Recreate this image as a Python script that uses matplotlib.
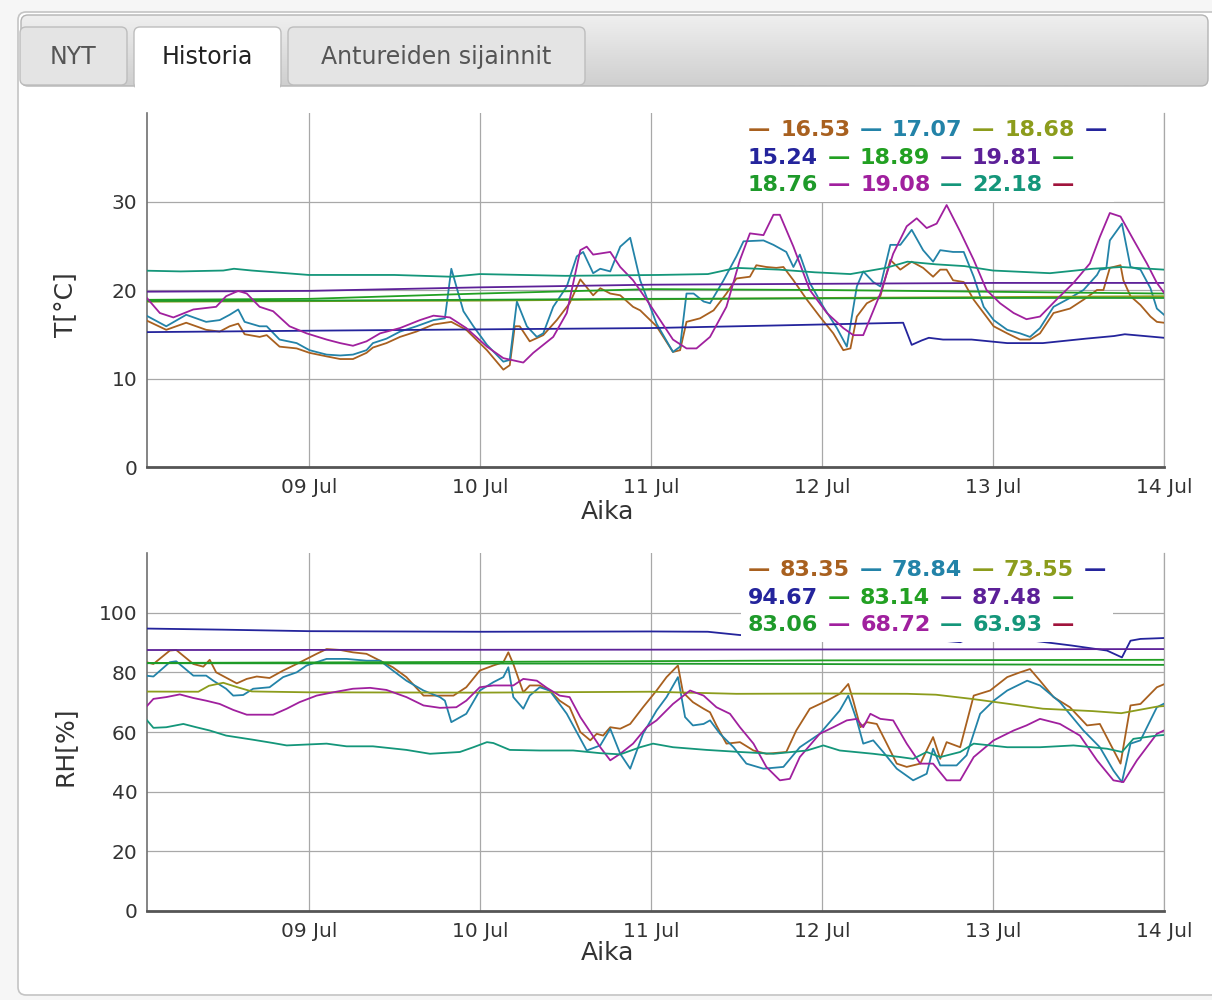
import numpy as np
import matplotlib
matplotlib.use("Agg")
import matplotlib.pyplot as plt
import matplotlib.dates as mdates
from matplotlib.patches import FancyBboxPatch, Rectangle
from matplotlib.colors import LinearSegmentedColormap
from matplotlib.offsetbox import TextArea, HPacker, VPacker, AnchoredOffsetbox

# --- data: (hours since 08 Jul 00:00, value) ---
t0 = np.datetime64('2014-07-08T00:00')
x_start, x_end = 1.3, 144.0

colors = ['#a8601f', '#2383a8', '#8c9c1c', '#24249c', '#22a022',
          '#5c2098', '#1e9a2a', '#a0209e', '#14967a', '#a0143c']

t_brown = [(1.3,16.53),(4.0,15.5),(6.8,16.3),(9.6,15.5),(11.5,15.3),(12.9,15.9),(14.1,16.2),(15.0,15.0),(17.1,14.7),(18.1,14.9),(19.9,13.6),(22.3,13.4),(24.1,12.9),(26.5,12.5),(28.4,12.2),(30.2,12.2),(32.1,12.9),(33.0,13.5),(34.9,14.0),(36.8,14.7),(39.1,15.3),(41.5,16.1),(44.0,16.4),(46.1,15.5),(49.0,13.2),(51.3,11.0),(52.2,11.5),(52.9,15.9),(53.6,15.9),(55.0,14.2),(56.9,14.9),(58.8,16.6),(60.6,18.5),(62.1,21.2),(63.9,19.4),(64.9,20.2),(66.3,19.6),(67.7,19.4),(69.5,18.1),(70.5,17.7),(72.8,15.9),(75.1,13.0),(76.1,13.2),(77.0,16.4),(78.9,16.8),(80.8,17.7),(82.6,19.6),(84.0,21.3),(85.9,21.5),(86.8,22.8),(88.2,22.6),(89.6,22.5),(90.6,22.6),(92.0,21.1),(93.9,18.9),(95.7,17.0),(97.6,15.1),(99.0,13.2),(100.0,13.4),(100.9,17.0),(102.3,18.5),(104.2,19.3),(105.6,23.4),(107.0,22.3),(108.6,23.2),(110.2,22.5),(111.6,21.5),(112.6,22.3),(113.5,22.3),(114.4,21.1),(115.9,20.9),(117.3,18.9),(118.7,17.4),(120.1,15.9),(122.0,15.1),(123.8,14.4),(125.2,14.4),(126.6,15.1),(128.5,17.4),(130.8,17.9),(132.7,18.9),(134.6,20.0),(135.5,20.0),(136.4,22.5),(137.9,22.8),(138.3,21.1),(139.3,19.3),(140.7,18.3),(142.1,17.0),(143.0,16.4),(144.0,16.3)]
t_teal = [(1.3,17.07),(4.0,15.9),(6.8,17.2),(9.6,16.4),(11.5,16.6),(12.9,17.2),(14.1,17.8),(15.0,16.4),(17.1,15.9),(18.1,15.9),(19.9,14.4),(22.3,14.0),(24.1,13.2),(26.5,12.7),(28.4,12.6),(30.2,12.7),(32.1,13.2),(33.0,14.0),(34.9,14.5),(36.8,15.3),(39.1,15.9),(41.5,16.6),(43.1,16.8),(44.0,22.4),(45.7,17.6),(47.1,15.9),(49.0,13.8),(51.3,11.9),(52.2,12.1),(53.2,18.7),(54.6,15.9),(56.0,14.7),(56.9,15.1),(58.3,18.1),(60.2,20.4),(61.6,23.8),(62.5,24.3),(63.9,21.9),(64.9,22.4),(66.3,22.1),(67.7,24.9),(69.1,25.9),(70.5,21.1),(72.8,16.2),(75.1,13.0),(76.1,13.6),(77.0,19.6),(78.0,19.6),(79.4,18.7),(80.3,18.5),(82.2,21.1),(84.0,23.8),(85.0,25.5),(87.8,25.6),(89.2,25.1),(91.0,24.3),(92.0,22.6),(92.9,24.0),(94.3,20.8),(96.2,18.1),(98.1,15.7),(99.5,13.6),(100.9,20.4),(101.8,22.1),(103.2,20.9),(104.2,20.4),(105.6,25.1),(107.0,25.1),(108.6,26.8),(110.2,24.5),(111.6,23.2),(112.6,24.5),(114.4,24.3),(115.9,24.3),(117.3,21.5),(118.7,18.1),(120.1,16.6),(122.0,15.5),(123.8,15.1),(125.2,14.7),(126.6,15.7),(128.5,18.1),(130.8,19.1),(132.7,20.0),(134.6,21.7),(135.0,22.3),(135.9,22.4),(136.4,25.6),(138.1,27.5),(139.3,22.6),(140.7,22.3),(142.1,20.2),(143.0,17.9),(144.0,17.2)]
t_olive = [(1.3,18.68),(48,18.8),(96,19.1),(144,19.3)]
t_navy = [(1.3,15.24),(24,15.4),(48,15.55),(72,15.7),(90,16.0),(107.4,16.3),(108.6,13.8),(110,14.3),(111,14.6),(113,14.4),(117,14.4),(122,14.0),(127,14.0),(133,14.5),(137,14.8),(138.5,15.0),(144,14.6)]
t_green1 = [(1.3,18.89),(24,19.0),(48,19.6),(72,20.1),(96,20.0),(120,19.8),(144,19.6)]
t_purple = [(1.3,19.81),(24,19.9),(48,20.3),(72,20.6),(96,20.7),(120,20.8),(144,20.8)]
t_green2 = [(1.3,18.76),(24,18.8),(72,19.0),(120,19.1),(144,19.1)]
t_magenta = [(1.3,19.08),(3.1,17.4),(5.0,16.9),(7.8,17.8),(11.0,18.1),(12.4,19.3),(14.1,19.9),(15.3,19.6),(17.1,18.1),(19.0,17.6),(21.3,15.9),(23.7,15.1),(26.5,14.4),(28.4,14.0),(30.2,13.7),(32.1,14.2),(34.0,15.1),(36.8,15.7),(39.6,16.6),(41.5,17.1),(43.8,16.9),(46.1,15.7),(49.0,13.6),(51.3,12.3),(54.1,11.8),(55.5,12.9),(58.3,14.7),(60.2,17.4),(62.1,24.5),(63.0,24.9),(63.9,24.0),(66.3,24.3),(67.7,22.6),(69.5,21.1),(71.4,18.9),(73.3,16.6),(75.1,14.4),(77.0,13.4),(78.4,13.4),(80.3,14.7),(82.6,18.1),(84.5,23.4),(85.9,26.4),(87.8,26.2),(89.2,28.5),(90.1,28.5),(92.0,24.9),(94.3,20.0),(96.7,17.4),(99.0,15.7),(100.4,14.9),(101.8,14.9),(104.2,19.6),(106.0,24.1),(107.9,27.2),(109.3,28.1),(110.7,27.0),(112.1,27.5),(113.5,29.6),(115.4,26.6),(117.3,23.4),(119.1,20.0),(121.0,18.5),(122.9,17.4),(124.7,16.7),(126.6,17.0),(128.9,18.9),(131.3,20.8),(133.6,23.0),(135.0,26.0),(136.4,28.7),(137.9,28.3),(139.7,25.7),(141.6,23.0),(143.0,20.8),(144.0,19.7)]
t_seagreen = [(1.3,22.18),(6,22.1),(12,22.2),(13.5,22.4),(16,22.2),(24,21.7),(36,21.7),(44,21.5),(48,21.8),(60,21.6),(73,21.7),(80,21.8),(84,22.5),(90,22.3),(95,22.0),(100,21.8),(105,22.5),(108,23.2),(112,22.9),(116,22.7),(120,22.2),(128,21.9),(134,22.4),(138,22.6),(144,22.3)]
t_red = []

rh_brown = [(1.3,83.35),(2.2,82.8),(4.5,87.3),(5.4,87.5),(7.8,82.8),(9.2,81.9),(10.1,84.2),(11.0,80.0),(13.9,76.3),(15.3,77.8),(16.7,78.6),(18.5,78.1),(20.4,80.6),(22.3,82.8),(23.7,84.5),(25.1,86.2),(26.5,87.8),(28.4,87.5),(30.2,86.7),(32.1,86.2),(34.0,83.9),(35.8,81.7),(37.7,78.4),(40.1,72.2),(42.4,72.2),(44.3,72.2),(46.1,75.0),(48.0,80.6),(49.9,82.3),(51.3,83.4),(52.0,86.7),(52.7,82.8),(54.1,73.3),(55.0,75.6),(56.4,75.6),(57.8,73.9),(59.2,70.5),(60.6,68.3),(62.1,60.0),(63.5,57.2),(64.4,59.4),(65.3,58.8),(66.3,61.6),(67.7,61.1),(69.1,62.7),(70.9,68.3),(72.8,73.9),(74.2,78.4),(75.8,82.3),(76.5,73.3),(77.9,70.0),(79.4,67.8),(80.3,66.6),(81.2,62.2),(82.6,56.1),(84.5,56.6),(86.4,53.8),(88.2,52.7),(91.0,53.3),(92.4,60.5),(94.3,67.8),(96.7,70.5),(98.5,72.8),(99.7,76.1),(100.4,70.5),(101.4,61.6),(102.3,63.3),(103.7,62.7),(105.1,56.1),(106.5,49.4),(107.9,48.3),(109.8,49.4),(111.6,58.3),(112.6,51.0),(113.5,56.6),(115.4,54.9),(117.3,72.2),(119.6,73.9),(122.0,78.4),(123.8,80.0),(125.2,81.1),(126.6,77.2),(128.5,71.7),(130.8,68.3),(133.2,62.2),(135.0,62.7),(137.9,49.4),(139.3,68.9),(140.7,69.4),(143.0,75.0),(144.0,76.0)]
rh_teal = [(1.3,78.84),(2.2,78.6),(4.5,83.4),(5.4,83.7),(7.8,78.9),(9.6,78.9),(10.6,77.2),(12.4,74.5),(13.4,72.2),(14.8,72.4),(16.2,74.5),(18.5,75.0),(20.4,78.4),(22.3,80.0),(23.7,82.3),(26.5,84.5),(29.3,84.5),(32.1,83.9),(34.0,83.9),(35.8,80.6),(37.7,77.2),(40.1,73.9),(42.4,71.7),(43.1,70.5),(44.0,63.3),(46.1,66.1),(48.0,73.9),(49.9,76.7),(51.3,78.4),(52.0,81.7),(52.7,71.7),(54.1,67.8),(55.0,72.2),(56.4,75.0),(57.8,73.9),(60.2,66.1),(63.0,53.8),(64.9,55.5),(66.3,61.1),(67.7,52.7),(69.1,47.7),(70.9,59.4),(72.8,67.2),(74.2,71.7),(75.8,78.4),(76.8,65.0),(77.9,62.2),(79.4,62.7),(80.3,63.9),(81.7,59.4),(83.6,54.9),(85.4,49.4),(87.8,47.7),(90.6,48.3),(92.9,54.9),(95.7,59.4),(98.5,67.2),(99.7,72.2),(100.9,63.9),(101.8,56.1),(103.2,57.2),(104.6,53.3),(106.5,47.7),(108.8,43.8),(110.7,46.0),(111.6,54.4),(112.6,48.8),(114.9,48.8),(116.3,52.2),(118.2,66.1),(120.1,70.5),(122.0,73.9),(124.8,77.2),(126.6,75.6),(129.4,70.0),(132.7,60.5),(135.0,54.9),(136.9,47.1),(138.1,43.2),(139.3,56.1),(140.7,57.2),(143.0,68.3),(144.0,69.5)]
rh_olive = [(1.3,73.55),(8.5,73.5),(10,75.5),(12,76.5),(14,75.0),(16,73.6),(24,73.3),(48,73.2),(72,73.5),(84,72.8),(96,72.9),(108,72.8),(112,72.5),(117,71.1),(122,69.5),(127,67.8),(134,67.0),(138,66.3),(143,68.5),(144,68.7)]
rh_navy = [(1.3,94.67),(12,94.3),(24,93.8),(48,93.6),(72,93.7),(80,93.6),(84.5,92.5),(96,92.0),(106,90.8),(112,90.8),(115.4,90.1),(116.5,91.2),(120,91.2),(126,90.5),(131,89.0),(136,87.3),(138.1,85.0),(139.3,90.6),(140.7,91.2),(144,91.5)]
rh_green1 = [(1.3,83.14),(48,83.5),(96,84.0),(144,84.2)]
rh_purple = [(1.3,87.48),(72,87.6),(144,87.8)]
rh_green2 = [(1.3,83.06),(72,82.9),(144,82.5)]
rh_magenta = [(1.3,68.72),(2.2,71.1),(4.0,71.7),(5.9,72.6),(7.8,71.4),(9.6,70.5),(11.5,69.4),(13.4,67.4),(15.3,65.8),(19.0,65.8),(20.9,67.8),(22.7,70.0),(25.1,72.2),(27.4,73.3),(30.2,74.5),(32.6,74.8),(34.9,74.1),(37.7,71.7),(40.1,68.9),(42.4,68.1),(44.7,68.3),(46.1,70.5),(48.0,75.0),(49.9,75.6),(52.7,75.6),(54.1,77.8),(56.0,77.2),(57.4,74.8),(59.2,72.2),(60.6,71.7),(62.1,65.0),(63.5,60.0),(64.9,54.9),(66.3,50.5),(67.7,52.7),(69.5,56.1),(71.4,61.6),(72.8,63.9),(75.1,69.4),(77.5,73.9),(79.4,72.2),(81.2,68.3),(83.1,66.1),(84.5,61.6),(86.4,56.1),(88.2,48.3),(90.1,43.8),(91.5,44.3),(92.9,51.6),(95.7,59.4),(97.6,61.6),(99.5,63.9),(100.9,64.4),(101.8,61.6),(102.8,66.1),(104.2,64.4),(106.0,63.9),(107.9,56.1),(109.8,49.4),(111.6,49.4),(113.5,43.8),(115.4,43.8),(117.3,51.6),(120.1,57.2),(122.9,60.5),(124.7,62.2),(126.6,64.4),(129.4,62.7),(132.2,58.8),(134.6,50.5),(136.9,43.8),(138.3,43.2),(140.2,50.5),(143.0,59.4),(144.0,60.5)]
rh_seagreen = [(1.3,63.93),(2.2,61.4),(4.0,61.6),(6.4,62.7),(8.2,61.6),(10.1,60.5),(12.4,58.8),(14.3,58.1),(16.2,57.4),(19.0,56.3),(20.9,55.5),(23.7,55.8),(26.5,56.1),(29.3,55.2),(33.0,55.2),(37.7,54.0),(41.0,52.7),(45.2,53.3),(47.1,54.9),(49.0,56.6),(49.9,56.3),(52.2,54.0),(56.4,53.8),(61.1,53.8),(64.9,52.9),(67.7,52.5),(70.5,54.9),(72.3,56.1),(75.1,54.9),(79.8,54.0),(84.5,53.3),(89.2,52.7),(93.9,53.8),(96.2,55.5),(98.5,53.8),(103.2,52.7),(107.0,51.6),(108.8,51.0),(110.7,53.3),(112.6,51.6),(115.4,53.3),(117.3,56.1),(122.0,54.9),(126.6,54.9),(131.3,55.5),(136.0,54.4),(138.1,53.3),(139.7,57.7),(143.0,58.8),(144.0,59.0)]
rh_red = []

temp_series = [t_brown, t_teal, t_olive, t_navy, t_green1, t_purple, t_green2, t_magenta, t_seagreen, t_red]
rh_series = [rh_brown, rh_teal, rh_olive, rh_navy, rh_green1, rh_purple, rh_green2, rh_magenta, rh_seagreen, rh_red]

tabs = ['NYT', 'Historia', 'Antureiden sijainnit']
x_label = 'Aika'
y_labels = ['T[°C]', 'RH[%]']
y_ticks = [[0, 10, 20, 30], [0, 20, 40, 60, 80, 100]]
y_lims = [(0, 40), (0, 120)]


def to_time(hours):
    return t0 + (np.asarray(hours, dtype=float) * 60).round().astype('timedelta64[m]')


fig = plt.figure(figsize=(12.12, 10), dpi=100)
fig.patch.set_facecolor('#f6f6f6')

# page / tab background drawn in pixel coords
bg = fig.add_axes([0, 0, 1, 1], zorder=-10)
bg.set_xlim(0, 1212)
bg.set_ylim(1000, 0)
bg.axis('off')
panel = FancyBboxPatch((18, 12), 1230, 983, boxstyle='round,pad=0,rounding_size=8',
                       fc='white', ec='#c4c4c4', lw=1.2, zorder=0)
bg.add_patch(panel)
bar = FancyBboxPatch((21, 15), 1187, 71, boxstyle='round,pad=0,rounding_size=7',
                     fc='none', ec='#b4b4b4', lw=1, zorder=0.8)
bg.add_patch(bar)
grad = LinearSegmentedColormap.from_list('bar', ['#efefef', '#cfcfcf'])
im = bg.imshow(np.linspace(0, 1, 64)[:, None], extent=(21, 1208, 86, 15), cmap=grad,
               aspect='auto', zorder=0.5)
im.set_clip_path(bar)
tab_boxes = [(20, 127), (134, 281), (288, 585)]
for i, (name, (xa, xb)) in enumerate(zip(tabs, tab_boxes)):
    active = name == 'Historia'
    p = FancyBboxPatch((xa, 27), xb - xa, 62 if active else 58,
                       boxstyle='round,pad=0,rounding_size=6',
                       fc='white' if active else '#e4e4e4', ec='#bdbdbd', lw=1, zorder=2)
    bg.add_patch(p)
    if active:
        bg.add_patch(Rectangle((xa + 1, 84), xb - xa - 2, 8, fc='white', ec='none', zorder=3))
    bg.text((xa + xb) / 2, 57, name, ha='center', va='center', fontsize=17,
            color='#222222' if active else '#555555', zorder=4)
bg.set_xlim(0, 1212)
bg.set_ylim(1000, 0)

axes_px = [(147, 113, 1164, 467), (147, 553, 1164, 911)]
label_y = [-0.127, -0.117]

for k, (series, (l, t, r, b)) in enumerate(zip([temp_series, rh_series], axes_px)):
    ax = fig.add_axes([l / 1212, 1 - b / 1000, (r - l) / 1212, (b - t) / 1000])
    ax.set_facecolor('none')
    for pts, c in zip(series, colors):
        if not pts:
            continue
        arr = np.array(pts)
        ax.plot(to_time(arr[:, 0]), arr[:, 1], color=c, lw=1.3, zorder=3)
    ax.set_xlim(to_time(x_start), to_time(x_end))
    ax.set_ylim(*y_lims[k])
    ax.set_yticks(y_ticks[k])
    ax.xaxis.set_major_locator(mdates.DayLocator())
    ax.xaxis.set_major_formatter(mdates.DateFormatter('%d %b'))
    ax.grid(True, color='#a8a8a8', lw=0.9)
    ax.set_axisbelow(True)
    ax.tick_params(length=0, labelsize=14.5, labelcolor='#333333')
    ax.tick_params(axis='x', pad=8)
    ax.tick_params(axis='y', pad=7)
    ax.spines['top'].set_visible(False)
    ax.spines['right'].set_color('#a8a8a8')
    ax.spines['right'].set_linewidth(0.9)
    ax.spines['left'].set_color('#707070')
    ax.spines['left'].set_linewidth(1.2)
    ax.spines['bottom'].set_color('#555555')
    ax.spines['bottom'].set_linewidth(2)
    ax.set_xlabel(x_label, fontsize=18, color='#333333')
    ax.xaxis.set_label_coords(0.453, label_y[k])
    ax.xaxis.label.set_va('center')
    ax.set_ylabel(y_labels[k], fontsize=18, color='#333333')
    ax.yaxis.set_label_coords(-0.0806, 0.46)
    ax.yaxis.label.set_va('center')

    # legend: colored dash + first value, flowing over three rows
    tokens = []
    for pts, c in zip(series, colors):
        tokens.append(('—', c))
        if pts:
            tokens.append(('%.2f' % pts[0][1], c))
    row_breaks = [0, 7, 13, len(tokens)]
    rows = []
    for a, z in zip(row_breaks[:-1], row_breaks[1:]):
        items = [TextArea(s, textprops=dict(color=c, fontsize=16, fontweight='bold'))
                 for s, c in tokens[a:z]]
        rows.append(HPacker(children=items, align='baseline', pad=0, sep=7))
    box = VPacker(children=rows, align='left', pad=0, sep=5.5)
    anch = AnchoredOffsetbox(loc='upper left', child=box, pad=0.5, borderpad=0,
                             prop=dict(size=10), frameon=True,
                             bbox_to_anchor=((741 - l) / (r - l), 1.0),
                             bbox_transform=ax.transAxes)
    anch.patch.set_facecolor('white')
    anch.patch.set_edgecolor('none')
    anch.set_zorder(10)
    ax.add_artist(anch)

fig.savefig('out.png', dpi=100)
